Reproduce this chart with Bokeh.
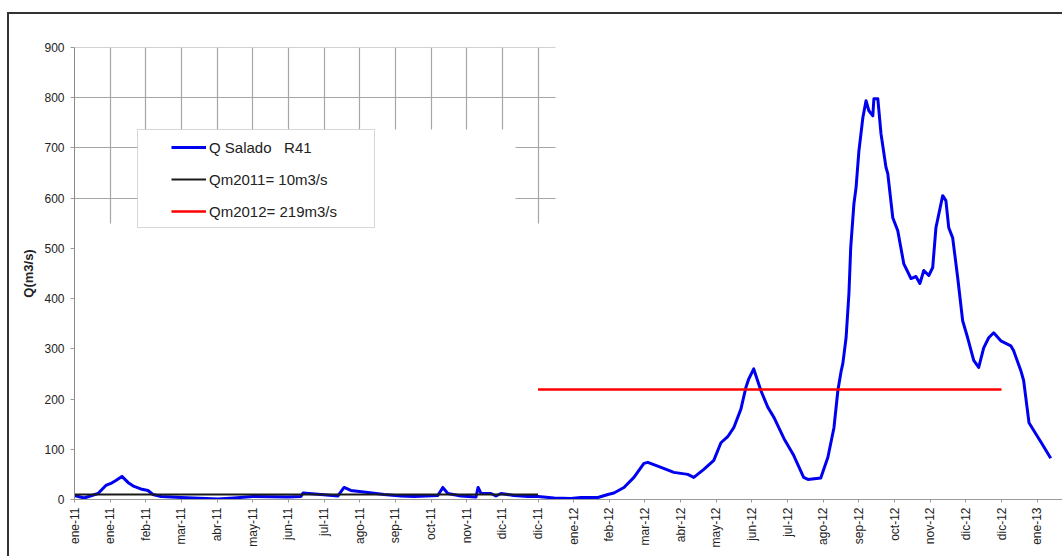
import math
from bokeh.plotting import figure
from bokeh.models import (Range1d, FixedTicker, BoxAnnotation, Legend, LegendItem)
from bokeh.embed import file_html
from bokeh.resources import INLINE

# ---- data (x in axis-tick units: tick k = k-th label) ----
tick_labels = ["ene-11", "ene-11", "feb-11", "mar-11", "abr-11", "may-11", "jun-11",
               "jul-11", "ago-11", "sep-11", "oct-11", "nov-11", "dic-11", "dic-11",
               "ene-12", "feb-12", "mar-12", "abr-12", "may-12", "jun-12", "jul-12",
               "ago-12", "sep-12", "oct-12", "nov-12", "dic-12", "dic-12", "ene-13"]

q_x = [0.0, 0.27, 0.66, 0.88, 1.02, 1.16, 1.33, 1.50, 1.67, 1.86, 2.06, 2.20, 2.43, 2.99,
       4.02, 4.47, 5.00, 5.99, 6.35, 6.41, 6.91, 7.39, 7.56, 7.75, 8.23, 8.68, 9.16, 9.52,
       10.19, 10.33, 10.47, 10.84, 11.26, 11.32, 11.40, 11.68, 11.82, 11.96, 12.32, 12.72,
       13.00, 13.45, 13.92, 14.20, 14.68, 14.96, 15.13, 15.41, 15.69, 15.97, 16.08, 16.45,
       16.81, 17.20, 17.37, 17.65, 17.93, 18.13, 18.32, 18.49, 18.69, 18.83, 18.91, 19.05,
       19.25, 19.45, 19.62, 19.90, 20.17, 20.45, 20.57, 20.93, 21.13, 21.30, 21.41, 21.50,
       21.55, 21.64, 21.72, 21.77, 21.86, 21.92, 22.00, 22.11, 22.20, 22.28, 22.39, 22.42,
       22.53, 22.62, 22.76, 22.81, 22.95, 23.09, 23.26, 23.46, 23.60, 23.71, 23.82, 23.96,
       24.07, 24.16, 24.35, 24.44, 24.52, 24.63, 24.77, 24.91, 25.05, 25.22, 25.36, 25.50,
       25.64, 25.78, 25.98, 26.26, 26.34, 26.54, 26.62, 26.77, 26.96, 27.10, 27.38]
q_y = [8, 3, 12, 28, 32, 38, 46, 34, 26, 21, 18, 10, 6, 4,
       1, 3, 6, 5, 6, 13, 10, 7, 24, 18, 14, 10, 7, 6,
       8, 24, 12, 7, 5, 24, 12, 12, 7, 12, 8, 6,
       6, 3, 2, 4, 4, 10, 13, 24, 44, 72, 74, 64,
       54, 50, 44, 60, 78, 113, 125, 143, 180, 223, 240, 260,
       217, 183, 163, 121, 88, 44, 40, 43, 84, 143, 217, 255,
       271, 322, 410, 501, 589, 621, 694, 760, 794, 774, 764, 798,
       798, 728, 661, 649, 561, 535, 469, 440, 444, 430, 456, 446,
       462, 541, 605, 595, 541, 521, 442, 356, 322, 277, 263, 302,
       322, 332, 316, 306, 296, 257, 237, 153, 131, 115, 82]

qm2011_x = [0, 13]
qm2011_y = [10, 10]
qm2012_x = [13, 26]
qm2012_y = [219, 219]

y_ticks = [0, 100, 200, 300, 400, 500, 600, 700, 800, 900]
grid_x_ticks = list(range(1, 14))
grid_y_ticks = [600, 700, 800, 899.9]

FONT = "Liberation Sans"
TXT = "#222222"

p = figure(width=1062, height=556, output_backend="svg", toolbar_location=None,
           x_range=Range1d(0, 27.71), y_range=Range1d(0, 900),
           min_border_left=74, min_border_top=47, min_border_right=0, min_border_bottom=57,
           background_fill_color="white", border_fill_alpha=0)
p.outline_line_color = None
# outer frame of the picture (left and top edges), painted by CSS behind the canvas
p.styles = {
    "background-image": "linear-gradient(#333333, #333333), linear-gradient(#333333, #333333)",
    "background-size": "2px 100%, 100% 2px",
    "background-position": "7px 12px, 7px 12px",
    "background-repeat": "no-repeat",
    "background-color": "white",
    "vertical-align": "top",
}

# grid (only in upper-left block)
p.xgrid.ticker = FixedTicker(ticks=grid_x_ticks)
p.xgrid.cross_bounds = (550, 900)
p.ygrid.ticker = FixedTicker(ticks=grid_y_ticks)
p.ygrid.cross_bounds = (0, 13.5)
for g in (p.xgrid, p.ygrid):
    g.grid_line_color = "#a6a6a6"
    g.grid_line_width = 1.2

# axes
xa = p.xaxis[0]
xa.ticker = FixedTicker(ticks=list(range(len(tick_labels))))
xa.major_label_overrides = {i: t for i, t in enumerate(tick_labels)}
xa.major_label_orientation = math.pi / 2
xa.major_tick_in = 0
xa.major_tick_out = 3
xa.minor_tick_line_color = None
xa.major_label_standoff = 5
xa.axis_line_color = "#9a9a9a"
xa.major_tick_line_color = "#9a9a9a"

ya = p.yaxis[0]
ya.ticker = FixedTicker(ticks=y_ticks)
ya.major_tick_in = 0
ya.major_tick_out = 4
ya.minor_tick_line_color = None
ya.major_label_standoff = 6
ya.axis_line_color = "#8a8a8a"
ya.major_tick_line_color = "#9a9a9a"
ya.axis_label = "Q(m3/s)"
ya.axis_label_text_font = FONT
ya.axis_label_text_font_size = "13px"
ya.axis_label_text_font_style = "bold"
ya.axis_label_text_color = TXT
ya.axis_label_standoff = 5

for ax in (xa, ya):
    ax.major_label_text_font = FONT
    ax.major_label_text_font_size = "12px"
    ax.major_label_text_color = TXT

# series
r_q = p.line(q_x, q_y, line_color="#0000f0", line_width=3, line_join="round")
r_2011 = p.line(qm2011_x, qm2011_y, line_color="#1a1a1a", line_width=2)
r_2012 = p.line(qm2012_x, qm2012_y, line_color="#ff0000", line_width=2.5)

# white patch over the grid + legend frame (canvas pixel units)
p.add_layout(BoxAnnotation(left=137, right=515, top=129, bottom=224,
                           left_units="canvas", right_units="canvas",
                           top_units="canvas", bottom_units="canvas",
                           fill_color="white", fill_alpha=1, line_alpha=0))
p.add_layout(BoxAnnotation(left=137, right=374, top=129, bottom=227,
                           left_units="canvas", right_units="canvas",
                           top_units="canvas", bottom_units="canvas",
                           fill_color="white", fill_alpha=1, line_color="#7a7a7a",
                           line_width=1))

legend = Legend(items=[LegendItem(label="Q Salado   R41", renderers=[r_q]),
                       LegendItem(label="Qm2011= 10m3/s", renderers=[r_2011]),
                       LegendItem(label="Qm2012= 219m3/s", renderers=[r_2012])],
                location=(97, 276), padding=0, margin=0, spacing=8,
                glyph_width=35, glyph_height=24, label_height=24, label_standoff=3,
                border_line_alpha=0, background_fill_alpha=0,
                label_text_font=FONT, label_text_font_size="15px", label_text_color=TXT)
p.add_layout(legend, "center")

open("out.html", "w").write(file_html(p, INLINE))
